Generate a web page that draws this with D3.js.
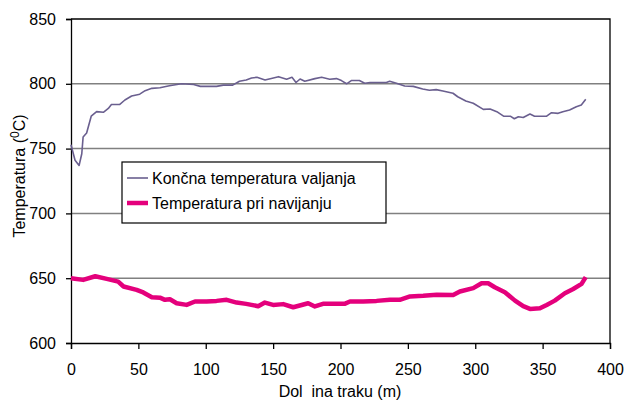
<!DOCTYPE html>
<html>
<head>
<meta charset="utf-8">
<script src="https://cdn.jsdelivr.net/npm/d3@7"></script>
<style>
  body { margin: 0; background: #fff; }
  text { font-family: "Liberation Sans", Arial, sans-serif; }
</style>
</head>
<body>
<svg id="chart" width="626" height="401"></svg>
<script>
// podatki, odčitani iz slike
var xTicks = [0, 50, 100, 150, 200, 250, 300, 350, 400];
var yTicks = [600, 650, 700, 750, 800, 850];
var seriesNames = ["Končna temperatura valjanja", "Temperatura pri navijanju"];

var koncnaDist = [0, 3, 6, 8, 9, 11.6, 15, 19, 24, 27.7, 30, 36, 40, 45, 51, 55, 60, 66, 73, 82, 91, 96, 102, 108, 113, 120, 125, 130, 134, 138, 144, 154, 160, 164, 167, 170, 173.5, 181, 186, 192, 197, 200.7, 204.5, 208, 214, 218, 222, 234, 236.5, 241.5, 247.6, 254, 261, 266, 271, 276, 283.5, 287, 293, 298.5, 306, 311, 316, 321, 326, 329, 332, 335.6, 340.6, 344, 353, 356.6, 361.5, 365, 370, 375, 378.7, 382];
var koncnaTemp = [753, 741, 737, 746, 759, 762, 775, 778.5, 778, 781, 784, 784, 787.5, 790.6, 792, 794.7, 796.5, 797, 798.5, 800, 799.5, 798, 798, 798, 799, 799, 802, 803, 804.5, 805, 803, 805.5, 803.5, 805, 801, 803.7, 802, 804, 805, 803.5, 804, 802.5, 800, 802.5, 802.5, 800.4, 801, 801, 802, 800.4, 798.3, 798, 796, 795, 795.5, 794.5, 792.7, 790, 786.7, 785, 780.3, 780.6, 778.5, 775, 775, 773, 774.6, 774, 776.7, 775, 775, 777.7, 777.2, 778.5, 779.8, 782.3, 783.6, 788];

var navijanjeDist = [0, 9, 18, 26.5, 35, 39, 48.7, 53.6, 60, 66, 69.7, 73.4, 78.4, 85.8, 92, 100.6, 108, 115.5, 122.9, 130, 138.9, 143.9, 150, 157.5, 164.9, 176, 181, 187, 203, 207, 216.8, 226.7, 236.7, 244, 251.6, 261.4, 271.4, 283.6, 288.6, 298.5, 304.7, 309.6, 314.5, 322, 329.5, 335.6, 340.6, 348, 353, 359, 366.5, 372.7, 378.9, 382];
var navijanjeTemp = [650, 648.7, 651.5, 649.5, 647.4, 643.6, 641, 639, 635.3, 635, 633.3, 633.8, 630.7, 629.4, 632, 632, 632.5, 633.3, 631.2, 630.2, 628.4, 631.2, 629.4, 630, 627.6, 630.7, 628.2, 630.2, 630.2, 632, 632, 632.5, 633.3, 633.3, 635.9, 636.4, 637.2, 637, 639.7, 642.3, 646.1, 646.1, 643, 639.2, 632.7, 628.4, 626.3, 626.8, 629.4, 632.7, 638.4, 641.7, 645.6, 650.8];

var colors = ["#6a5f8f", "#e4007c"];

var svg = d3.select("#chart");
var margin = { top: 19, right: 16, bottom: 58, left: 71 };
var width = +svg.attr("width") - margin.left - margin.right;
var height = +svg.attr("height") - margin.top - margin.bottom;

var x = d3.scaleLinear().domain([0, 400]).range([0, width]);
var y = d3.scaleLinear().domain([600, 850]).range([height, 0]);

var g = svg.append("g")
    .attr("transform", "translate(" + margin.left + "," + margin.top + ")");

// mrežne črte
g.append("g")
    .selectAll("line")
    .data(yTicks.filter(function(d) { return d > 600 && d < 850; }))
    .enter()
    .append("line")
    .attr("x1", 0)
    .attr("x2", width)
    .attr("y1", function(d) { return y(d); })
    .attr("y2", function(d) { return y(d); })
    .attr("stroke", "#808080")
    .attr("stroke-width", 1.5);

// okvir zgoraj in desno
g.append("path")
    .attr("d", "M0," + y(850) + "H" + x(400) + "V" + y(600))
    .attr("fill", "none")
    .attr("stroke", "#000")
    .attr("stroke-width", 1.3);

// osi
var xAxis = g.append("g")
    .attr("transform", "translate(0," + height + ")")
    .call(d3.axisBottom(x).tickValues(xTicks).tickSize(6).tickPadding(15).tickFormat(d3.format("d")));
var yAxis = g.append("g")
    .call(d3.axisLeft(y).tickValues(yTicks).tickSize(5).tickPadding(10).tickFormat(d3.format("d")));

[xAxis, yAxis].forEach(function(a) {
  a.select(".domain").attr("stroke", "#000").attr("stroke-width", 1.3);
  a.selectAll(".tick line").attr("stroke", "#000").attr("stroke-width", 1.3);
  a.selectAll(".tick text")
    .attr("fill", "#000")
    .style("font-size", "16px")
    .style("font-family", "'Liberation Sans', Arial, sans-serif");
});

// črte
var line = d3.line()
    .x(function(d) { return x(d[0]); })
    .y(function(d) { return y(d[1]); });

var data1 = d3.zip(koncnaDist, koncnaTemp);
var data2 = d3.zip(navijanjeDist, navijanjeTemp);

g.append("path")
    .datum(data1)
    .attr("d", line)
    .attr("fill", "none")
    .attr("stroke", colors[0])
    .attr("stroke-width", 1.6)
    .attr("stroke-linejoin", "round");

g.append("path")
    .datum(data2)
    .attr("d", line)
    .attr("fill", "none")
    .attr("stroke", colors[1])
    .attr("stroke-width", 4.5)
    .attr("stroke-linejoin", "round");

// oznake osi
svg.append("text")
    .attr("x", 340)
    .attr("y", 397)
    .attr("text-anchor", "middle")
    .style("font-size", "16px")
    .text("Dol\u00a0\u00a0ina traku (m)");

var yl = svg.append("text")
    .attr("transform", "translate(25,176) rotate(-90)")
    .attr("text-anchor", "middle")
    .style("font-size", "16px");
yl.append("tspan").text("Temperatura (");
yl.append("tspan").attr("dy", -6).style("font-size", "12px").text("0");
yl.append("tspan").attr("dy", 6).text("C)");

// legenda
var legend = svg.append("g").attr("transform", "translate(122,162)");
legend.append("rect")
    .attr("width", 264)
    .attr("height", 61)
    .attr("fill", "#fff")
    .attr("stroke", "#000")
    .attr("stroke-width", 1.2);

seriesNames.forEach(function(name, i) {
  var ly = 16 + i * 25;
  legend.append("line")
      .attr("x1", 5).attr("x2", 26)
      .attr("y1", ly).attr("y2", ly)
      .attr("stroke", colors[i])
      .attr("stroke-width", i === 0 ? 1.6 : 4.5);
  legend.append("text")
      .attr("x", 30)
      .attr("y", ly)
      .attr("dy", "0.36em")
      .style("font-size", "16px")
      .text(name);
});
</script>
</body>
</html>
